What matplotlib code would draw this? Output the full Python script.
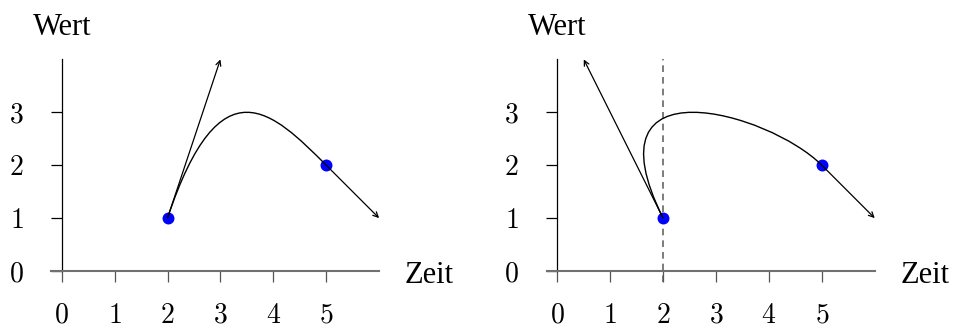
import matplotlib
matplotlib.use("Agg")
import matplotlib.pyplot as plt
from matplotlib.path import Path
from matplotlib.patches import PathPatch, FancyArrowPatch

plt.rcParams["font.family"] = ["cmr10", "DejaVu Serif"]
plt.rcParams["axes.formatter.use_mathtext"] = True

# Data: two interpolation nodes and their tangent directions
node_x = [2, 5]
node_y = [1, 2]
start_tip_left = (3, 4)      # tangent tip at the first node, left panel
start_tip_right = (0.5, 4)   # tangent tip at the first node, right panel
end_tip = (6, 1)             # tangent tip at the second node
x_ticks = [0, 1, 2, 3, 4, 5]
y_ticks = [0, 1, 2, 3]
x_label = "Zeit"
y_label = "Wert"
guide_x = 2                  # dashed guide in the right panel

W, H = 956, 329
U = 52.9                     # pixels per data unit
origin_y = 271
origins_x = [61.7, 557.3]

fig = plt.figure(figsize=(W / 100, H / 100), dpi=100)

word_font = dict(family=["Liberation Serif", "DejaVu Serif"], fontsize=22)


def make_panel(idx, start_tip, dashed):
    left_px = idx * W / 2
    ax = fig.add_axes([left_px / W, 0, 0.5, 1])
    ox = origins_x[idx]
    ax.set_xlim((left_px - ox) / U, (left_px + W / 2 - ox) / U)
    ax.set_ylim(-(H - origin_y) / U, origin_y / U)
    ax.patch.set_visible(False)
    for s in ("top", "right"):
        ax.spines[s].set_visible(False)
    ax.spines["left"].set_position(("data", 0))
    ax.spines["left"].set_bounds(0, 4)
    ax.spines["left"].set_color("black")
    ax.spines["left"].set_linewidth(0.9)
    ax.spines["bottom"].set_position(("data", 0))
    ax.spines["bottom"].set_bounds(-0.2, 6)
    ax.spines["bottom"].set_color("#707070")
    ax.spines["bottom"].set_linewidth(1.5)
    ax.set_xticks(x_ticks)
    ax.set_yticks(y_ticks)
    ax.tick_params(axis="x", direction="out", length=7.6, width=0.9,
                   color="#555555", pad=15, labelsize=20)
    ax.tick_params(axis="y", direction="out", length=7.6, width=0.9,
                   color="black", pad=20, labelsize=20)

    if dashed:
        ax.plot([guide_x, guide_x], [-0.2, 4], color="#666666", lw=1.2,
                dashes=(4, 3), zorder=1)

    # Blue nodes
    ax.plot(node_x, node_y, "o", color="#0000ff", ms=8.6, mec="none", zorder=2)

    # Cubic Bezier from node 1 to node 2 with tangent-based controls
    p0 = (node_x[0], node_y[0])
    p3 = (node_x[1], node_y[1])
    c2 = (2 * p3[0] - end_tip[0], 2 * p3[1] - end_tip[1])
    path = Path([p0, start_tip, c2, p3],
                [Path.MOVETO, Path.CURVE4, Path.CURVE4, Path.CURVE4])
    ax.add_patch(PathPatch(path, fc="none", ec="black", lw=1.0, zorder=3))

    # Tangent arrows
    for a, b in ((p0, start_tip), (p3, end_tip)):
        ax.add_patch(FancyArrowPatch(a, b, arrowstyle="->", mutation_scale=9,
                                     lw=0.9, color="black", shrinkA=0,
                                     shrinkB=0, zorder=3))

    ax.text(0, 4.47, y_label, ha="center", va="baseline", **word_font)
    ax.text(6.95, -0.23, x_label, ha="center", va="baseline", **word_font)
    return ax


make_panel(0, start_tip_left, False)
make_panel(1, start_tip_right, True)

fig.savefig("out.png", dpi=100)
